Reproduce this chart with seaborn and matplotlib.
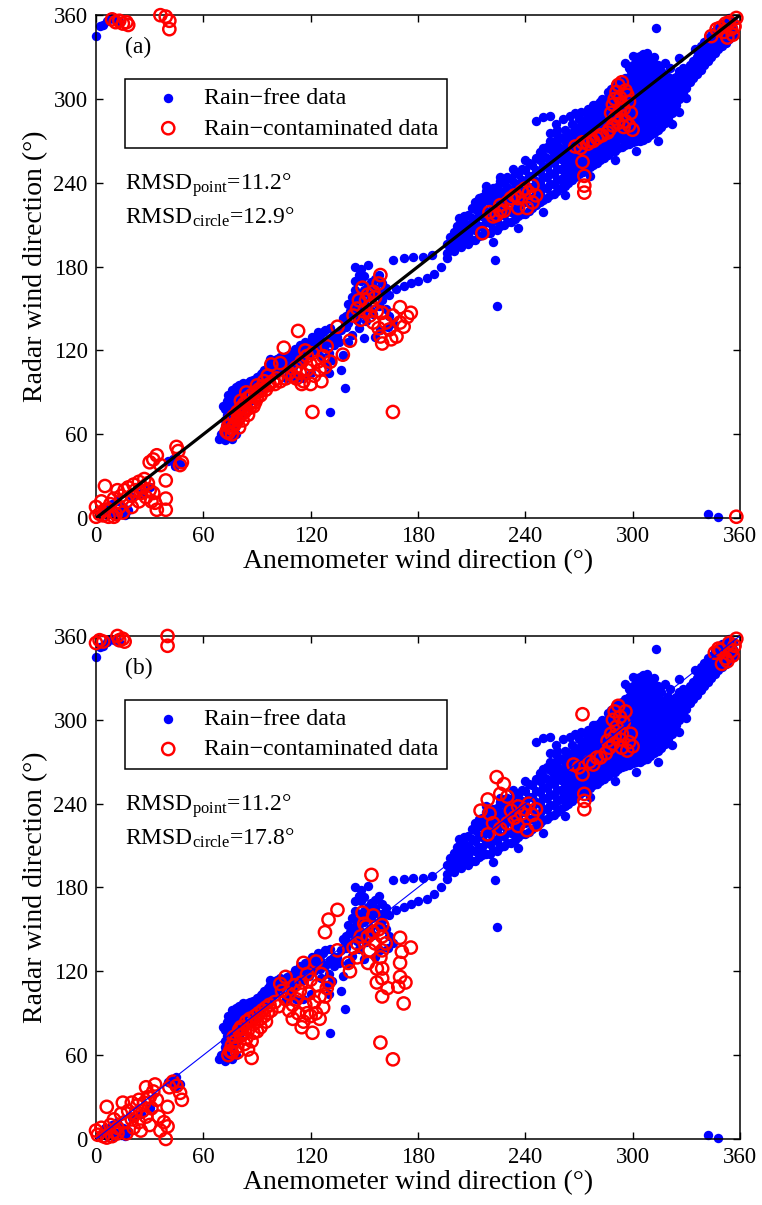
import numpy as np
import pandas as pd
import matplotlib
matplotlib.use("Agg")
import matplotlib.pyplot as plt
import seaborn as sns

# ---------------- data ----------------
ticks = [0, 60, 120, 180, 240, 300, 360]
panel_tags = ["(a)", "(b)"]
rmsd_point = ["11.2", "11.2"]
rmsd_circle = ["12.9", "17.8"]
label_free = "Rain\u2212free data"
label_rain = "Rain\u2212contaminated data"

# rain-free (same in both panels)
blue_wrap = [(0, 345), (2, 352), (4, 353), (6, 356), (8, 358), (10, 357), (13, 356),
             (342, 3), (348, 1)]
blue_low = [(3, 3), (6, 2), (8, 5), (10, 2), (12, 4), (14, 3), (16, 2), (18, 6), (5, 8),
            (9, 10), (12, 12), (15, 8), (20, 15), (25, 18), (30, 22), (40, 41), (43, 42),
            (45, 44), (47, 39), (44, 37)]
blue_70_105 = [(69, 57), (72, 56), (74, 58), (76, 57), (78, 60), (72, 62), (73, 66), (72, 70),
               (73, 74), (72, 78), (74, 82), (74, 88), (76, 92), (78, 94), (80, 95), (82, 97),
               (84, 96), (86, 98), (88, 99), (90, 101), (92, 103), (94, 106), (96, 108),
               (98, 111), (100, 113), (103, 115), (97, 114), (75, 84), (77, 88), (79, 90),
               (81, 91), (83, 92), (85, 93), (87, 95), (89, 96), (91, 98), (93, 100), (95, 102),
               (76, 66), (78, 70), (80, 74), (82, 78), (84, 82), (86, 84), (88, 88), (90, 90),
               (92, 93), (95, 96), (98, 100), (100, 104), (102, 107), (104, 110), (76, 76),
               (78, 80), (80, 84), (82, 88), (71, 80), (73, 84), (75, 88), (77, 91), (79, 93),
               (81, 94), (85, 97), (89, 99), (93, 104), (97, 110), (101, 114), (99, 107),
               (95, 104), (91, 100), (87, 97), (83, 94), (80, 88), (78, 85), (74, 80), (76, 72),
               (74, 70), (72, 66), (70, 60)]
blue_100_135 = [(105, 112), (107, 116), (110, 118), (112, 120), (115, 122), (118, 124),
                (120, 127), (122, 129), (125, 131), (127, 133), (110, 108), (113, 112),
                (116, 114), (119, 117), (122, 120), (125, 122), (128, 124), (126, 115),
                (129, 110), (130, 104), (120, 104), (116, 100), (112, 100), (108, 104),
                (106, 100), (131, 76), (139, 93), (137, 106), (132, 113), (130, 118), (133, 124),
                (104, 114), (108, 117), (111, 121), (114, 124), (117, 126), (121, 130),
                (124, 133), (128, 135), (131, 136), (126, 127), (123, 125), (120, 121),
                (117, 120), (114, 117), (111, 114), (108, 111), (131, 128), (133, 130)]
blue_135_170 = [(135, 130), (137, 135), (139, 140), (140, 145), (142, 148), (144, 152),
                (146, 156), (148, 160), (150, 163), (152, 166), (154, 169), (156, 171),
                (158, 174), (145, 180), (148, 178), (152, 181), (160, 168), (162, 165),
                (164, 160), (158, 152), (155, 146), (151, 141), (147, 136), (143, 131),
                (141, 126), (148, 170), (150, 173), (143, 158), (141, 153), (145, 163),
                (160, 156), (162, 150), (164, 145), (166, 140), (163, 137), (159, 135),
                (156, 130), (150, 129), (138, 117), (154, 158), (157, 162), (153, 150),
                (149, 146), (146, 142), (140, 137), (136, 126), (138, 143), (141, 140),
                (144, 146), (147, 150), (150, 155), (153, 160), (156, 165), (159, 160),
                (161, 162), (145, 170), (147, 174)]
blue_branch = [(166, 185), (172, 186), (177, 187), (183, 187), (188, 188), (168, 164),
               (172, 166), (176, 168), (180, 170), (185, 172), (189, 175), (193, 180),
               (196, 186), (200, 191), (204, 197), (208, 203), (223, 185), (224, 152),
               (313, 351), (246, 284), (250, 287), (254, 288), (257, 282), (261, 286),
               (265, 288), (268, 290), (271, 291), (275, 293), (278, 296), (282, 298),
               (254, 276), (258, 278)]
blue_edges = [(203, 215), (218, 238), (226, 244), (233, 250), (240, 256), (222, 198),
              (236, 208), (250, 219), (262, 231), (276, 245), (290, 256), (302, 263),
              (314, 270), (322, 282), (326, 291), (330, 301), (296, 326), (300, 331),
              (318, 326), (321, 322), (335, 336), (326, 329)]
# main band: anemometer value -> radar values seen in that column
blue_band = [
    (196, [190, 196]), (200, [192, 198, 205]), (204, [194, 201, 207, 212]),
    (208, [196, 202, 210, 217]), (212, [199, 206, 213, 221, 226]),
    (216, [203, 209, 216, 223, 230]), (220, [204, 211, 218, 226, 233]),
    (224, [206, 213, 221, 229, 237]), (228, [210, 217, 224, 232, 240]),
    (232, [212, 219, 227, 235, 243]), (236, [216, 223, 230, 238, 246]),
    (240, [218, 226, 234, 241, 249]), (244, [222, 229, 237, 245, 253]),
    (248, [226, 233, 240, 248, 256, 262]), (252, [229, 236, 244, 251, 258, 266]),
    (256, [232, 239, 246, 254, 261, 269]), (260, [236, 243, 250, 257, 264, 272]),
    (264, [240, 247, 254, 262, 269, 276]), (268, [244, 251, 258, 266, 273, 280]),
    (272, [248, 255, 262, 270, 277, 284]), (276, [251, 258, 266, 274, 281, 289]),
    (280, [254, 262, 269, 277, 285, 293]), (284, [258, 265, 273, 281, 289, 297]),
    (288, [262, 269, 277, 285, 293, 301, 307]), (292, [265, 272, 280, 288, 296, 304, 311]),
    (296, [267, 275, 283, 291, 299, 307, 315]),
    (300, [269, 277, 285, 293, 301, 309, 317, 324]),
    (304, [270, 278, 286, 294, 302, 310, 318, 326, 331]),
    (308, [272, 280, 288, 296, 304, 312, 320, 328, 333]),
    (312, [276, 284, 292, 300, 308, 316, 324, 330]),
    (316, [280, 288, 296, 304, 312, 320]), (320, [286, 294, 302, 310, 316]),
    (324, [296, 303, 310, 316]), (328, [304, 310, 318, 322]), (332, [312, 318, 324]),
    (336, [318, 324, 330]), (340, [324, 330, 336, 341]), (344, [330, 335, 341, 346]),
    (348, [336, 341, 346, 351]), (352, [340, 346, 351, 355]), (356, [346, 351, 356]),
]
blue_band_mid = [
    (198, [193, 201]), (202, [195, 203, 209]), (206, [197, 205, 212, 216]),
    (210, [199, 207, 215, 222]), (214, [202, 209, 217, 225, 229]),
    (218, [204, 212, 220, 228, 234]), (222, [207, 215, 223, 231, 236]),
    (226, [209, 217, 225, 234, 241]), (230, [212, 220, 228, 237, 244]),
    (234, [214, 222, 231, 240, 247]), (238, [218, 226, 234, 242, 250]),
    (242, [220, 229, 237, 245, 254]), (246, [224, 232, 241, 249, 258]),
    (250, [228, 236, 244, 252, 260, 265]), (254, [231, 239, 247, 256, 264, 270]),
    (258, [234, 242, 250, 259, 267, 274]), (262, [238, 246, 254, 262, 270, 278]),
    (266, [242, 250, 258, 266, 274, 282]), (270, [246, 254, 262, 270, 278, 286]),
    (274, [250, 258, 266, 274, 282, 290]), (278, [253, 261, 270, 278, 286, 294]),
    (282, [256, 265, 273, 281, 289, 298]), (286, [260, 268, 276, 284, 292, 300, 305]),
    (290, [263, 271, 279, 287, 295, 303, 310]), (294, [266, 274, 282, 290, 298, 306, 313]),
    (298, [268, 276, 284, 292, 300, 308, 316, 322]),
    (302, [270, 278, 286, 294, 302, 310, 318, 325, 330]),
    (306, [271, 279, 287, 295, 303, 311, 319, 327, 332]),
    (310, [274, 282, 290, 298, 306, 314, 322, 329]),
    (314, [278, 286, 294, 302, 310, 318, 324]), (318, [283, 291, 299, 307, 314]),
    (322, [290, 298, 306, 313]), (326, [300, 307, 314, 320]), (330, [308, 315, 321]),
    (334, [315, 321, 327]), (338, [321, 327, 333, 338]), (342, [327, 333, 338, 344]),
    (346, [333, 338, 344, 349]), (350, [338, 344, 349, 354]), (354, [343, 349, 354, 358]),
]
blue_band_fill = [
    (263, [242, 250, 258, 266, 273]), (267, [246, 254, 262, 270, 277]),
    (271, [250, 258, 266, 274, 281]), (275, [253, 261, 270, 278, 285]),
    (279, [257, 265, 273, 281, 289, 296]), (283, [260, 268, 277, 285, 293, 300]),
    (287, [264, 272, 280, 288, 297, 303]), (291, [267, 275, 283, 291, 300, 307]),
    (295, [270, 278, 286, 294, 303, 311]), (299, [272, 280, 288, 296, 305, 313, 320]),
    (303, [274, 282, 290, 298, 306, 314, 322, 328]),
    (307, [276, 284, 292, 300, 308, 316, 324, 330]),
    (311, [279, 287, 295, 303, 311, 319, 327]), (315, [283, 291, 299, 307, 315, 322]),
    (319, [288, 296, 304, 312]), (323, [293, 301, 309, 315]), (327, [303, 311, 318]),
]

# rain-contaminated, panel (a)
red_a = [(9, 357), (11, 355), (13, 356), (15, 354), (17, 355), (18, 353), (36, 360), (39, 359),
         (41, 356), (41, 350), (358, 1),
         (0, 8), (0, 1), (2, 3), (3, 12), (5, 6), (5, 23), (8, 10), (10, 1), (10, 14), (11, 3),
         (12, 20), (13, 8), (14, 16), (16, 20), (17, 12), (18, 22), (20, 16), (21, 24), (22, 20),
         (24, 26), (25, 18), (26, 22), (27, 28), (28, 15), (29, 25), (30, 20), (31, 12), (32, 42),
         (33, 11), (34, 45), (34, 6), (36, 38), (39, 27), (39, 14), (39, 6), (45, 51), (46, 48),
         (48, 40), (47, 38), (30, 40), (32, 18), (24, 12), (20, 8), (15, 4), (4, 2), (7, 1),
         (73, 62), (74, 66), (75, 70), (76, 64), (77, 73), (78, 68), (79, 76), (80, 72), (81, 79),
         (82, 75), (83, 82), (84, 78), (85, 86), (86, 82), (87, 88), (88, 84), (89, 90), (90, 86),
         (91, 92), (92, 88), (93, 94), (95, 92), (97, 96), (99, 98), (101, 100), (103, 98),
         (85, 74), (82, 70), (88, 80), (76, 60), (80, 65), (90, 95), (94, 98), (96, 102),
         (84, 90), (81, 84), (74, 61), (77, 66), (79, 70), (83, 76), (86, 79), (89, 83),
         (92, 91), (96, 95), (100, 96),
         (103, 111), (106, 100), (108, 104), (110, 102), (112, 108), (114, 104), (115, 112),
         (116, 98), (118, 106), (118, 116), (120, 110), (121, 118), (122, 102), (124, 112),
         (125, 106), (126, 98), (127, 116), (128, 108), (120, 96), (115, 96), (112, 100),
         (105, 122), (113, 134), (121, 76), (129, 123), (131, 112), (98, 110), (117, 120),
         (135, 137), (138, 117), (142, 127), (144, 145), (146, 150), (147, 156), (148, 142),
         (149, 165), (150, 148), (151, 156), (152, 160), (153, 145), (154, 152), (155, 140),
         (156, 158), (157, 148), (158, 136), (159, 174), (160, 147), (159, 130), (160, 125),
         (162, 140), (164, 135), (168, 130), (170, 151), (172, 137), (176, 147), (166, 76),
         (158, 168), (155, 162), (166, 145), (170, 140), (174, 144), (165, 128),
         (216, 204), (220, 219), (222, 216), (224, 217), (226, 224), (228, 220), (230, 226),
         (232, 229), (234, 231), (236, 229), (238, 234), (240, 236), (242, 233), (244, 238),
         (246, 231), (241, 222), (226, 220), (236, 222), (244, 226),
         (268, 266), (271, 265), (272, 269), (272, 255), (273, 245), (273, 238), (273, 233),
         (276, 270), (280, 272), (283, 274), (286, 276), (289, 281), (292, 283), (295, 280),
         (298, 281), (300, 278), (287, 278), (290, 300), (289, 296), (291, 305), (292, 310),
         (293, 301), (294, 312), (295, 293), (296, 306), (297, 303), (298, 298), (299, 290),
         (291, 288), (293, 292), (288, 290), (290, 286), (278, 270), (275, 268), (282, 274),
         (296, 284), (294, 296),
         (344, 345), (347, 350), (349, 351), (351, 348), (353, 344), (354, 355), (356, 346),
         (357, 352), (358, 358), (355, 350), (352, 354)]

# rain-contaminated, panel (b)
red_b = [(0, 355), (2, 357), (4, 356), (12, 360), (13, 357), (15, 358), (16, 356), (40, 360),
         (40, 353),
         (0, 6), (1, 3), (3, 8), (4, 2), (6, 23), (8, 10), (10, 5), (10, 14), (12, 8), (14, 18),
         (15, 26), (16, 12), (17, 4), (18, 20), (20, 14), (21, 8), (22, 18), (23, 24), (24, 12),
         (25, 6), (26, 20), (27, 26), (28, 16), (28, 37), (29, 30), (30, 10), (31, 22), (32, 34),
         (33, 39), (34, 28), (35, 16), (36, 6), (38, 12), (39, 0), (40, 9), (40, 23), (41, 37),
         (43, 41), (45, 38), (47, 33), (48, 28), (20, 26), (12, 4), (6, 1), (9, 2), (24, 28),
         (30, 30),
         (74, 60), (75, 63), (76, 67), (77, 73), (78, 70), (79, 62), (80, 78), (81, 74), (82, 80),
         (83, 68), (84, 84), (85, 78), (86, 86), (87, 58), (88, 82), (89, 88), (90, 84), (91, 90),
         (92, 86), (93, 92), (94, 88), (95, 94), (96, 90), (97, 96), (98, 92), (100, 98),
         (102, 95), (85, 64), (82, 75), (88, 76), (92, 80), (81, 80), (76, 62), (79, 66),
         (87, 70), (90, 77), (84, 72), (95, 84),
         (103, 111), (104, 106), (106, 100), (106, 116), (108, 92), (108, 104), (110, 96),
         (111, 110), (112, 100), (113, 90), (114, 106), (115, 80), (115, 112), (116, 84),
         (116, 126), (117, 96), (118, 118), (119, 104), (120, 88), (120, 114), (121, 76),
         (122, 98), (123, 127), (123, 90), (124, 110), (125, 102), (126, 118), (127, 94),
         (128, 102), (129, 108), (130, 112), (110, 86), (118, 90), (125, 86),
         (128, 148), (130, 157), (135, 164), (135, 135), (141, 126), (142, 120), (144, 137),
         (146, 130), (149, 162), (150, 154), (151, 152), (152, 126), (152, 145), (154, 189),
         (155, 160), (155, 148), (156, 140), (157, 112), (158, 150), (159, 130), (160, 153),
         (160, 145), (160, 135), (160, 122), (160, 115), (160, 102), (159, 69), (166, 57),
         (170, 144), (170, 126), (171, 134), (173, 112), (169, 109), (170, 116), (172, 97),
         (176, 137), (162, 140), (148, 145), (146, 140), (153, 135), (157, 122), (163, 108),
         (215, 235), (219, 243), (219, 218), (220, 233), (224, 259), (226, 247), (228, 254),
         (230, 245), (230, 226), (232, 235), (234, 230), (236, 238), (238, 233), (240, 236),
         (241, 221), (242, 240), (244, 232), (246, 225), (246, 236), (236, 224), (226, 222),
         (222, 226),
         (267, 268), (270, 266), (272, 261), (272, 304), (273, 247), (273, 242), (273, 236),
         (276, 270), (280, 273), (282, 273), (285, 276), (287, 280), (288, 290), (289, 283),
         (289, 300), (290, 306), (291, 295), (292, 310), (293, 286), (293, 302), (294, 290),
         (295, 298), (296, 306), (297, 278), (298, 284), (299, 290), (300, 281), (290, 288),
         (286, 285), (294, 280), (278, 268),
         (346, 348), (348, 351), (349, 350), (350, 340), (352, 344), (354, 355), (355, 349),
         (357, 353), (358, 358), (353, 342), (356, 346)]

# ---------------- build frames ----------------
blue_pts = (blue_wrap + blue_low + blue_70_105 + blue_100_135 + blue_135_170
            + blue_branch + blue_edges)
blue_pts = blue_pts + [(x, y) for x, ys in blue_band + blue_band_mid + blue_band_fill
                       for y in ys]
df_blue = pd.DataFrame(blue_pts, columns=["anemometer", "radar"])
df_red = [pd.DataFrame(red_a, columns=["anemometer", "radar"]),
          pd.DataFrame(red_b, columns=["anemometer", "radar"])]
df_line = pd.DataFrame({"anemometer": [0, 360], "radar": [0, 360]})

# ---------------- style ----------------
sns.set_style("ticks")
plt.rcParams["font.family"] = ["Liberation Serif", "DejaVu Serif"]
plt.rcParams["mathtext.fontset"] = "custom"
plt.rcParams["mathtext.rm"] = "Liberation Serif"
plt.rcParams["mathtext.it"] = "Liberation Serif:italic"
plt.rcParams["axes.unicode_minus"] = True
for key in ["text.color", "axes.labelcolor", "xtick.color", "ytick.color", "axes.edgecolor"]:
    plt.rcParams[key] = "black"

fig = plt.figure(figsize=(7.62, 12.05), dpi=100)
axes = [fig.add_axes([0.126, 0.570, 0.845, 0.4174]),
        fig.add_axes([0.126, 0.0548, 0.845, 0.4174])]
line_styles = [dict(color="black", lw=2.3), dict(color="blue", lw=0.8)]

for i, ax in enumerate(axes):
    sns.scatterplot(data=df_blue, x="anemometer", y="radar", ax=ax, color="blue",
                    edgecolor="blue", linewidth=0, s=46, label=label_free,
                    clip_on=False, zorder=2)
    sns.scatterplot(data=df_red[i], x="anemometer", y="radar", ax=ax, color="red",
                    facecolor="none", edgecolor="red", linewidth=1.75, s=78,
                    label=label_rain, clip_on=False, zorder=3)
    sns.lineplot(data=df_line, x="anemometer", y="radar", ax=ax, zorder=4,
                 legend=False, **line_styles[i])
    ax.set_xlim(0, 360)
    ax.set_ylim(0, 360)
    ax.set_xticks(ticks)
    ax.set_yticks(ticks)
    ax.tick_params(direction="in", length=5, width=1, top=True, right=True,
                   labelsize=16.5, pad=6, colors="black")
    for sp in ax.spines.values():
        sp.set_visible(True)
        sp.set_linewidth(1.1)
        sp.set_color("black")
    ax.set_xlabel("Anemometer wind direction (\u00b0)", fontsize=20, labelpad=1)
    ax.set_ylabel("Radar wind direction (\u00b0)", fontsize=20, labelpad=4)
    ax.text(0.045, 0.936, panel_tags[i], transform=ax.transAxes, fontsize=17,
            ha="left", va="center")
    ax.text(0.045, 0.662, r"RMSD$_{\mathrm{point}}$=" + rmsd_point[i] + "\u00b0",
            transform=ax.transAxes, fontsize=17, ha="left", va="center")
    ax.text(0.045, 0.598, r"RMSD$_{\mathrm{circle}}$=" + rmsd_circle[i] + "\u00b0",
            transform=ax.transAxes, fontsize=17, ha="left", va="center")
    leg = ax.legend(loc="upper left", bbox_to_anchor=(0.045, 0.873), borderaxespad=0,
                    fontsize=17.3, frameon=True, fancybox=False, framealpha=1,
                    edgecolor="black", handlelength=2.9, handletextpad=0.05,
                    borderpad=0.35, labelspacing=0.35)
    leg.get_frame().set_linewidth(1.1)

fig.savefig("out.png", dpi=100)
